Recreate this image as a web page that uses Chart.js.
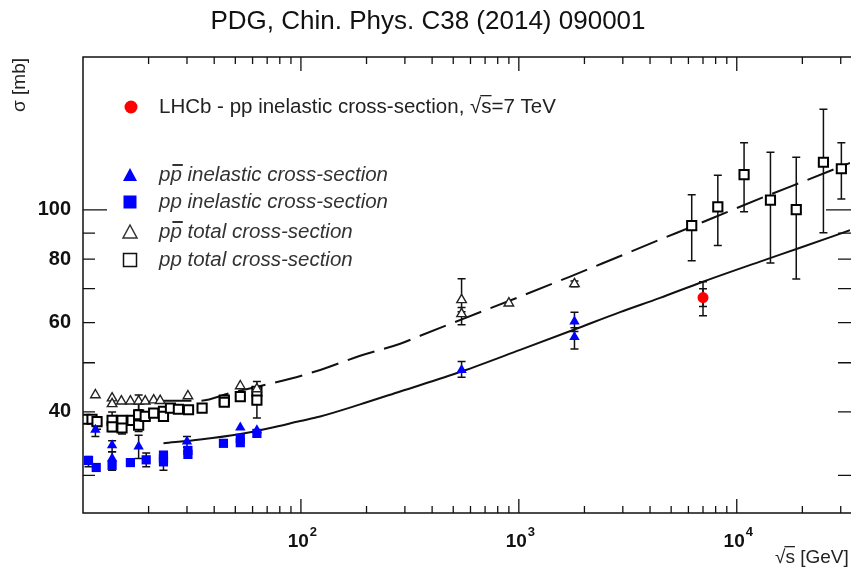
<!DOCTYPE html>
<html>
<head>
<meta charset="utf-8">
<title>PDG pp cross-sections</title>
<script src="https://cdn.jsdelivr.net/npm/chart.js@4.4.0/dist/chart.umd.min.js"></script>
<style>
  body { margin: 0; background: #fff; }
  #wrap { width: 851px; height: 570px; }
</style>
</head>
<body>
<div id="wrap"><canvas id="sigmaChart" width="851" height="570"></canvas></div>
<script>
// sqrt(s) [GeV], sigma [mb], errLow, errHigh
const lhcbInel = [[7000, 67.2, 61.9, 72.2, 64.5, 69.9]];

const ppbarInel = [
    [11.4, 36.9, 35.8, 37.7], [13.6, 34.4, 33.4, 35.1], [13.6, 32.4, 31.4, 33.4],
    [18.0, 34.2, 32.4, 36.0], [30.0, 35.0, 34.1, 35.8], [52.7, 37.3], [62.8, 36.8],
    [546, 48.4, 46.8, 50.3], [1800, 60.3, 57.6, 62.9], [1800, 56.2, 53.2, 58.6]
];

const ppInel = [
    [10.6, 32.1, 31.2, 32.7], [11.5, 31.1], [13.6, 31.4, 30.7, 32.0], [16.5, 31.8],
    [19.5, 32.2, 31.2, 33.2], [23.4, 32.4], [23.4, 32.9], [23.4, 31.9, 30.7, 32.4],
    [30.3, 33.6], [30.3, 33.0], [44.1, 34.7], [52.7, 35.5], [52.7, 34.8], [62.8, 36.3]
];

const ppbarTotal = [
    [11.4, 43.2], [13.6, 42.6], [13.6, 41.5], [15.0, 42.0], [16.5, 42.0],
    [18.0, 42.0, 40.4, 43.2], [19.3, 42.0], [21.1, 42.2], [22.6, 42.1], [30.3, 43.0],
    [52.7, 45.0], [62.8, 44.4],
    [546, 66.5, 63.0, 73.2], [546, 62.4, 59.4, 64.2], [900, 65.5], [1800, 71.5, 70.6, 72.4]
];

const ppTotal = [
    [10.2, 38.7], [11.0, 38.7], [11.6, 38.3, 37.0, 38.8], [13.6, 38.5], [13.6, 37.4, 36.6, 40.0],
    [15.1, 38.5], [15.1, 37.2, 36.2, 38.0], [16.8, 38.5], [18.0, 39.5, 38.5, 41.5],
    [18.0, 37.7, 36.6, 38.8], [19.3, 39.2], [21.1, 39.8], [23.4, 40.1], [23.4, 39.2],
    [25.2, 40.7], [27.4, 40.5], [30.5, 40.4], [35.2, 40.7], [44.5, 42.2], [44.5, 41.8],
    [52.7, 42.9], [62.8, 43.9], [62.8, 42.2, 38.9, 45.9],
    [6213, 93.1, 79.4, 107.1], [8186, 101.4, 85.1, 117.0], [10803, 117.3, 99.2, 135.5],
    [14277, 104.5, 78.6, 129.9], [18750, 100.1, 73.1, 127.0], [24984, 124.1, 90.1, 157.8],
    [30200, 120.5, 105.1, 135.5]
];

// fitted curves
const inelFit = [
    [23.4, 34.7], [34.5, 35.3], [52.7, 36.2], [72.3, 37.2], [99.3, 38.4], [122.6, 39.2],
    [187, 41.4], [285.5, 43.9], [549.6, 48.1], [1014, 53.0], [1812, 58.2], [2915, 62.9],
    [4446, 67.1], [7000, 72.2], [12790, 79.1], [19520, 84.2], [33085, 91.2]
];
const totalFit = [
    [23.4, 42.1], [34.5, 42.1], [47.4, 43.6], [65.1, 45.0], [89.3, 46.5], [122.6, 48.4],
    [187, 51.6], [285.5, 54.5], [352.6, 56.5], [543.6, 60.8], [1014, 67.5], [1719, 73.9],
    [2411, 78.4], [4446, 87.4], [6231, 92.7], [9120, 99.2], [14217, 107.2],
    [21010, 114.5], [33085, 123.7]
];

const xMin = 10, xMax = 33085;
const yMin = 25.3, yMax = 200;
const xLabelTicks = [100, 1000, 10000];
const yLabelTicks = [40, 60, 80, 100];
const yTickMarks = [30, 40, 50, 60, 70, 80, 90, 100];

const FONT = '"Liberation Sans", Arial, sans-serif';

function toPoints(arr) {
    return arr.map(p => ({ x: p[0], y: p[1], lo: p[2], hi: p[3], lo2: p[4], hi2: p[5] }));
}

// error bars, under the markers
const errorBars = {
    id: 'errorBars',
    beforeDatasetsDraw(chart) {
        const ctx = chart.ctx;
        const xs = chart.scales.x, ys = chart.scales.y;
        ctx.save();
        ctx.strokeStyle = '#111';
        ctx.lineWidth = 1.5;
        chart.data.datasets.forEach(ds => {
            if (ds.showLine) return;
            ds.data.forEach(p => {
                const px = xs.getPixelForValue(p.x);
                const bars = [[p.lo, p.hi], [p.lo2, p.hi2]];
                bars.forEach(b => {
                    if (b[0] == null) return;
                    const y1 = ys.getPixelForValue(b[0]), y2 = ys.getPixelForValue(b[1]);
                    ctx.beginPath();
                    ctx.moveTo(px, y1); ctx.lineTo(px, y2);
                    ctx.moveTo(px - 4, y1); ctx.lineTo(px + 4, y1);
                    ctx.moveTo(px - 4, y2); ctx.lineTo(px + 4, y2);
                    ctx.stroke();
                });
            });
        });
        ctx.restore();
    }
};

function drawMarker(ctx, kind, x, y) {
    ctx.save();
    if (kind === 'circle') {
        ctx.fillStyle = '#ff0000';
        ctx.beginPath(); ctx.arc(x, y, 6.5, 0, Math.PI * 2); ctx.fill();
    } else if (kind === 'triFill' || kind === 'triOpen') {
        ctx.beginPath();
        ctx.moveTo(x, y - 7); ctx.lineTo(x + 7, y + 6); ctx.lineTo(x - 7, y + 6); ctx.closePath();
        if (kind === 'triFill') { ctx.fillStyle = '#0000ff'; ctx.fill(); }
        else { ctx.strokeStyle = '#333'; ctx.lineWidth = 1.5; ctx.stroke(); }
    } else if (kind === 'sqFill') {
        ctx.fillStyle = '#0000ff';
        ctx.fillRect(x - 6.5, y - 6.5, 13, 13);
    } else {
        ctx.strokeStyle = '#111'; ctx.lineWidth = 1.5;
        ctx.strokeRect(x - 6.5, y - 6.5, 13, 13);
    }
    ctx.restore();
}

// "pp" where the second p carries an antiparticle bar
function drawPPbar(ctx, x, y, bar) {
    ctx.fillText('p', x, y);
    const w = ctx.measureText('p').width;
    ctx.fillText('p', x + w, y);
    if (bar) {
        ctx.fillRect(x + w + 2, y - 11, w - 1, 2);
    }
    return x + 2 * w;
}

const decorations = {
    id: 'decorations',
    afterDraw(chart) {
        const ctx = chart.ctx;
        const a = chart.chartArea;
        const xs = chart.scales.x, ys = chart.scales.y;
        ctx.save();

        // frame (the right edge runs off the picture)
        ctx.strokeStyle = '#111';
        ctx.lineWidth = 1.5;
        ctx.beginPath();
        ctx.moveTo(a.right + 2, a.top);
        ctx.lineTo(a.left, a.top);
        ctx.lineTo(a.left, a.bottom);
        ctx.lineTo(a.right + 2, a.bottom);
        ctx.stroke();

        // x tick marks, inward on bottom and top
        ctx.lineWidth = 1.3;
        ctx.beginPath();
        for (let d = 10; d <= xMax; d *= 10) {
            for (let k = 1; k <= 9; k++) {
                const v = k * d;
                if (v <= xMin || v >= xMax) continue;
                const px = xs.getPixelForValue(v);
                const len = k === 1 ? 14 : 7;
                ctx.moveTo(px, a.bottom); ctx.lineTo(px, a.bottom - len);
                ctx.moveTo(px, a.top); ctx.lineTo(px, a.top + len);
            }
        }
        // y tick marks, inward on left and right
        yTickMarks.forEach(v => {
            const py = ys.getPixelForValue(v);
            const len = v === 100 ? 24 : 12;
            ctx.moveTo(a.left, py); ctx.lineTo(a.left + len, py);
            ctx.moveTo(a.right + 2, py); ctx.lineTo(a.right - len, py);
        });
        ctx.stroke();

        // x tick labels 10^n
        ctx.fillStyle = '#111';
        ctx.textBaseline = 'alphabetic';
        ctx.textAlign = 'left';
        xLabelTicks.forEach(v => {
            const px = xs.getPixelForValue(v);
            const base = '10', exp = String(Math.round(Math.log10(v)));
            ctx.font = 'bold 19px ' + FONT;
            const wb = ctx.measureText(base).width;
            ctx.font = 'bold 13px ' + FONT;
            const we = ctx.measureText(exp).width;
            const x0 = px - (wb + we) / 2 + 1;
            ctx.font = 'bold 19px ' + FONT;
            ctx.fillText(base, x0, 547);
            ctx.font = 'bold 13px ' + FONT;
            ctx.fillText(exp, x0 + wb + 1, 536);
        });

        // axis titles
        ctx.font = '19px ' + FONT;
        ctx.fillStyle = '#222';
        ctx.textBaseline = 'middle';
        const xt0 = 775;
        ctx.fillText('√', xt0, 558);
        const wr = ctx.measureText('√').width;
        ctx.fillText('s [GeV]', xt0 + wr, 558);
        const ws = ctx.measureText('s').width;
        ctx.fillRect(xt0 + wr - 1, 546, ws + 1, 1.3);

        ctx.save();
        ctx.translate(20, 85);
        ctx.rotate(-Math.PI / 2);
        ctx.textAlign = 'center';
        ctx.fillText('σ [mb]', 0, 0);
        ctx.restore();

        // title
        ctx.font = '26px ' + FONT;
        ctx.fillStyle = '#111';
        ctx.textAlign = 'center';
        ctx.fillText('PDG, Chin. Phys. C38 (2014) 090001', 428, 22);

        // legend
        ctx.textAlign = 'left';
        ctx.textBaseline = 'middle';
        const lx = 131, tx = 159;
        drawMarker(ctx, 'circle', lx, 107);
        ctx.font = '20.5px ' + FONT;
        ctx.fillStyle = '#222';
        let cx = tx;
        const pre = 'LHCb - pp inelastic cross-section, ';
        ctx.fillText(pre, cx, 107);
        cx += ctx.measureText(pre).width;
        ctx.fillText('√', cx, 107);
        cx += ctx.measureText('√').width;
        ctx.fillRect(cx - 1, 95, ctx.measureText('s').width + 1, 1.3);
        ctx.fillText('s=7 TeV', cx, 107);

        const rows = [
            ['triFill', 175, true, ' inelastic cross-section'],
            ['sqFill', 202, false, ' inelastic cross-section'],
            ['triOpen', 232, true, ' total cross-section'],
            ['sqOpen', 260, false, ' total cross-section']
        ];
        ctx.font = 'italic 20.5px ' + FONT;
        ctx.fillStyle = '#333';
        rows.forEach(r => {
            drawMarker(ctx, r[0], lx - 1, r[1]);
            const x1 = drawPPbar(ctx, tx, r[1], r[2]);
            ctx.fillText(r[3], x1, r[1]);
        });

        ctx.restore();
    }
};

const ctx = document.getElementById('sigmaChart').getContext('2d');
const sigmaChart = new Chart(ctx, {
    type: 'scatter',
    data: {
        datasets: [
            {
                label: 'LHCb - pp inelastic cross-section, √s=7 TeV',
                data: toPoints(lhcbInel),
                pointStyle: 'circle', pointRadius: 5.5,
                backgroundColor: '#ff0000', borderColor: '#ff0000', borderWidth: 0,
                order: 1
            },
            {
                label: 'p pbar inelastic cross-section',
                data: toPoints(ppbarInel),
                pointStyle: 'triangle', pointRadius: 6,
                backgroundColor: '#0000ff', borderColor: '#0000ff', borderWidth: 0,
                order: 2
            },
            {
                label: 'pp inelastic cross-section',
                data: toPoints(ppInel),
                pointStyle: 'rect', pointRadius: 6.5,
                backgroundColor: '#0000ff', borderColor: '#0000ff', borderWidth: 0,
                order: 3
            },
            {
                label: 'p pbar total cross-section',
                data: toPoints(ppbarTotal),
                pointStyle: 'triangle', pointRadius: 5.5,
                backgroundColor: '#ffffff', borderColor: '#222', borderWidth: 1.4,
                order: 4
            },
            {
                label: 'pp total cross-section',
                data: toPoints(ppTotal),
                pointStyle: 'rect', pointRadius: 6.5,
                backgroundColor: '#ffffff', borderColor: '#000', borderWidth: 2,
                order: 5
            },
            {
                label: 'inelastic fit',
                data: toPoints(inelFit),
                showLine: true, pointRadius: 0, cubicInterpolationMode: 'monotone',
                borderColor: '#111', borderWidth: 2,
                order: 10
            },
            {
                label: 'total fit',
                data: toPoints(totalFit),
                showLine: true, pointRadius: 0, cubicInterpolationMode: 'monotone',
                borderColor: '#111', borderWidth: 2, borderDash: [28, 10],
                order: 11
            }
        ]
    },
    options: {
        responsive: false,
        animation: false,
        layout: { autoPadding: false, padding: { top: 57, right: 1, left: 0, bottom: 0 } },
        plugins: {
            legend: { display: false },
            tooltip: { enabled: false }
        },
        scales: {
            x: {
                type: 'logarithmic',
                min: xMin,
                max: xMax,
                grid: { display: false, drawTicks: false },
                border: { display: false },
                ticks: { display: false },
                afterFit: function(scale) { scale.height = 57; }
            },
            y: {
                type: 'logarithmic',
                min: yMin,
                max: yMax,
                grid: { display: false, drawTicks: false },
                border: { display: false },
                afterBuildTicks: function(scale) {
                    scale.ticks = yLabelTicks.map(v => ({ value: v }));
                },
                ticks: {
                    autoSkip: false,
                    padding: 12,
                    color: '#111',
                    font: { family: FONT, size: 20, weight: 'bold' },
                    callback: function(value) { return String(value); }
                },
                afterFit: function(scale) { scale.width = 83; }
            }
        }
    },
    plugins: [errorBars, decorations]
});
</script>
</body>
</html>
